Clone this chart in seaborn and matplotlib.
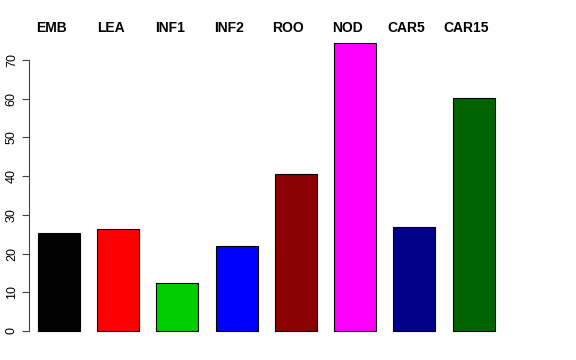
import matplotlib
matplotlib.use("Agg")
import matplotlib.pyplot as plt
import seaborn as sns
import pandas as pd

# values
tissues = ["EMB", "LEA", "INF1", "INF2", "ROO", "NOD", "CAR5", "CAR15"]
values = [25.3, 26.3, 12.4, 22.0, 40.6, 74.4, 26.9, 60.2]
colors = ["#000000", "#FF0000", "#00CD00", "#0000FF", "#8B0000", "#FF00FF", "#00008B", "#006400"]
yticks = [0, 10, 20, 30, 40, 50, 60, 70]

df = pd.DataFrame({"tissue": tissues, "value": values})

sns.set_style("white")
plt.rcParams["font.family"] = ["Liberation Sans", "DejaVu Sans"]
plt.rcParams["text.color"] = "black"
plt.rcParams["ytick.color"] = "black"

fig = plt.figure(figsize=(5.76, 3.6), dpi=100)
ax = fig.add_axes([0.0503, 0.0483, 0.824, 0.8656])

sns.barplot(data=df, x="tissue", y="value", hue="tissue", palette=colors,
            legend=False, width=0.71, edgecolor="black", linewidth=0.8,
            saturation=1, ax=ax)

ax.set_xlim(-0.507, 7.507)
ax.set_ylim(-3, 77.5)
ax.set_xlabel("")
ax.set_ylabel("")

# R style axis: left only, bounded 0-70
for side in ["top", "right", "bottom"]:
    ax.spines[side].set_visible(False)
ax.spines["left"].set_bounds(0, 70)
ax.spines["left"].set_color("#444444")
ax.spines["left"].set_linewidth(0.8)
ax.set_yticks(yticks)
ax.set_yticklabels([str(t) for t in yticks], rotation=90, va="center", fontsize=9)
ax.tick_params(axis="y", length=5, width=0.8, color="#444444", pad=3, left=True)

# tissue names on top, slightly left of each bar
ax.set_xticks([])
for i, name in enumerate(tissues):
    ax.text(i - 0.13, 1.0096, name, transform=ax.get_xaxis_transform(), ha="center",
            va="center", fontsize=10, fontweight="bold", color="black")

fig.savefig("out.png", dpi=100)
